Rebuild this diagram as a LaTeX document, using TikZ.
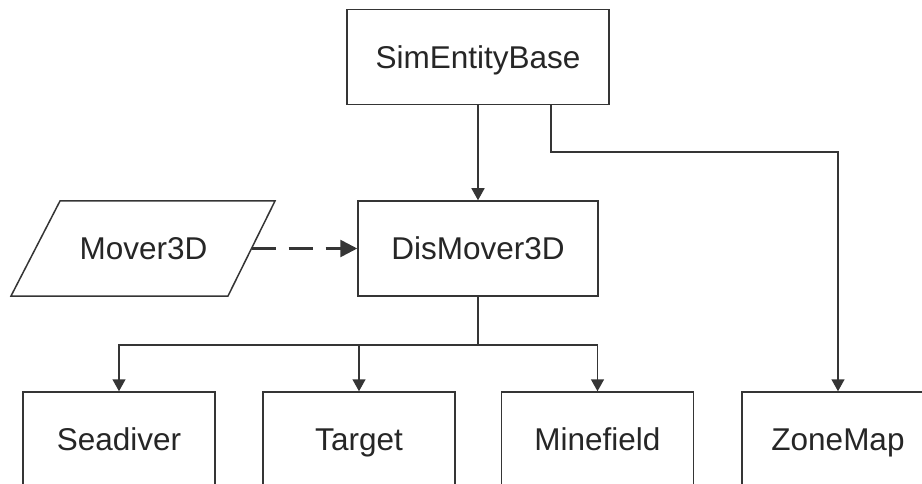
\documentclass[tikz,border=0pt]{standalone}
\usepackage{fontspec}
\setmainfont{Liberation Sans}
\usetikzlibrary{arrows.meta,positioning}
\definecolor{linegray}{HTML}{353535}
\definecolor{textgray}{HTML}{262626}
\begin{document}
\begin{tikzpicture}[x=1pt,y=-1pt,
  label text/.style={text=textgray,font=\fontsize{31.5}{38}\selectfont,
    text height=22.5pt,text depth=0pt,inner sep=0pt},
  classbox/.style={label text,draw=linegray,line width=1.5pt,fill=white,
    minimum height=95pt},
  wide/.style={classbox,minimum width=262pt},
  mid/.style={classbox,minimum width=240pt},
  leaf/.style={classbox,minimum width=192pt},
  arr/.style={draw=linegray,line width=1.5pt,-{Triangle[width=13pt,length=12pt]}},
  dasharr/.style={draw=linegray,line width=2.6pt,dash pattern=on 24pt off 13pt,
    -{Triangle[width=17pt,length=17pt]}}]
\useasboundingbox (0,0) rectangle (922,484);
\clip (0,0) rectangle (922,484);
\fill[white] (0,0) rectangle (922,484);

% class boxes
\node[wide] (seb) at (478,57) {SimEntityBase};
\node[mid]  (dis) at (478,248.5) {DisMover3D};
\node[leaf] (sd)  at (119,439.5) {Seadiver};
\node[leaf] (tg)  at (359,439.5) {Target};
\node[leaf] (mf)  at (597.5,439.5) {Minefield};
\node[leaf] (zm)  at (838,439.5) {ZoneMap};

% Mover3D as a parallelogram
\draw[linegray,line width=1.5pt,fill=white]
  (60,201) -- (275,201) -- (228,296) -- (11,296) -- cycle;
\node[label text] (mv) at (143.5,248.5) {Mover3D};
\coordinate (mvR) at (251.5,248.5);

% inheritance connectors
\draw[arr] (seb.south) -- (dis.north);
\draw[arr] ([xshift=73pt]seb.south) -- ++(0,47) -| (zm.north);
\draw[arr] (dis.south) -- ++(0,48) -| (sd.north);
\draw[arr] (dis.south) -- ++(0,48) -| (tg.north);
\draw[arr] (dis.south) -- ++(0,48) -| (mf.north);
\draw[dasharr] (mvR) -- (dis.west);
\end{tikzpicture}
\end{document}
